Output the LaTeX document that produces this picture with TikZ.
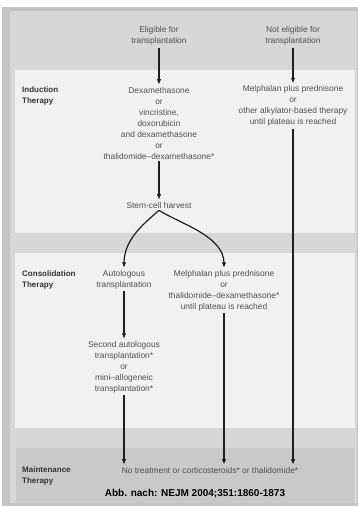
\documentclass[tikz,border=0pt]{standalone}
\usepackage{fontspec}
\setmainfont{Liberation Sans}
\usetikzlibrary{positioning,arrows.meta,calc,backgrounds}
\definecolor{frameout}{HTML}{C4C4C4}
\definecolor{framein}{HTML}{D7D7D7}
\definecolor{panelbg}{HTML}{F1F1F1}
\definecolor{maintbg}{HTML}{C9C9C9}
\definecolor{inktext}{HTML}{505050}

\begin{document}
\begin{tikzpicture}[x=1pt, y=-1pt,
  every node/.style={font=\fontsize{8.4}{11}\selectfont, inner sep=2pt},
  txt/.style={align=center, text=inktext},
  head/.style={align=left, anchor=west, text=black!80,
               font=\fontsize{8}{11}\selectfont\bfseries},
  arr/.style={-{Latex[length=5.5pt,width=4.5pt]}, line width=1.2pt, color=black!88},
]
\useasboundingbox (0,0) rectangle (358,507);
% ---- grey frame and the three therapy panels ----
\fill[frameout] (2,7) rectangle (358,506);
\fill[framein] (10,11) rectangle (357,503);
\fill[panelbg] (15,70) rectangle (355,233);
\fill[panelbg] (15,253) rectangle (355,428);
\fill[maintbg] (16,448) rectangle (354,503);
% ---- entry points ----
\node[txt] (elig)   at (159,36) {Eligible for\\transplantation};
\node[txt] (noelig) at (293,36) {Not eligible for\\transplantation};
% ---- induction ----
\node[head] (indlbl) at (20,96) {Induction\\Therapy};
\node[txt] (dexa)  at (159,123) {Dexamethasone\\or\\vincristine,\\doxorubicin\\and dexamethasone\\or\\thalidomide--dexamethasone*};
\node[txt] (melph) at (293,106) {Melphalan plus prednisone\\or\\other alkylator-based therapy\\until plateau is reached};
\node[txt] (harvest) at (159,205) {Stem-cell harvest};
\draw[arr] (elig) -- (dexa);
\draw[arr] (noelig) -- (melph);
\draw[arr] (dexa) -- (harvest);
% ---- consolidation ----
\node[head] (conlbl) at (20,280) {Consolidation\\Therapy};
\node[txt] (auto)    at (124,279.5) {Autologous\\transplantation};
\node[txt] (melthal) at (224,290.5) {Melphalan plus prednisone\\or\\thalidomide--dexamethasone*\\until plateau is reached};
\node[txt] (second)  at (124,367) {Second autologous\\transplantation*\\or\\mini--allogeneic\\transplantation*};
% harvest splits in a brace towards both options
\draw[arr] (harvest.south) .. controls +(-12,11) and +(0,-30) .. (auto.north);
\draw[arr] (harvest.south) .. controls +(20,13) and +(0,-32) .. (melthal.north);
\draw[arr] (auto) -- (second);
% ---- maintenance ----
\node[head] (mntlbl) at (20,476) {Maintenance\\Therapy};
\node[txt] (maint) at (210,470) {No treatment or corticosteroids* or thalidomide*};
\draw[arr] (second.south)  -- (second.south |- maint.north);
\draw[arr] (melthal.south) -- (melthal.south |- maint.north);
\draw[arr] (melph.south)   -- (melph.south |- maint.north);
\node[font=\fontsize{10}{12}\selectfont\bfseries] (src) at (195,494) {Abb. nach: NEJM 2004;351:1860-1873};
\end{tikzpicture}
\end{document}
